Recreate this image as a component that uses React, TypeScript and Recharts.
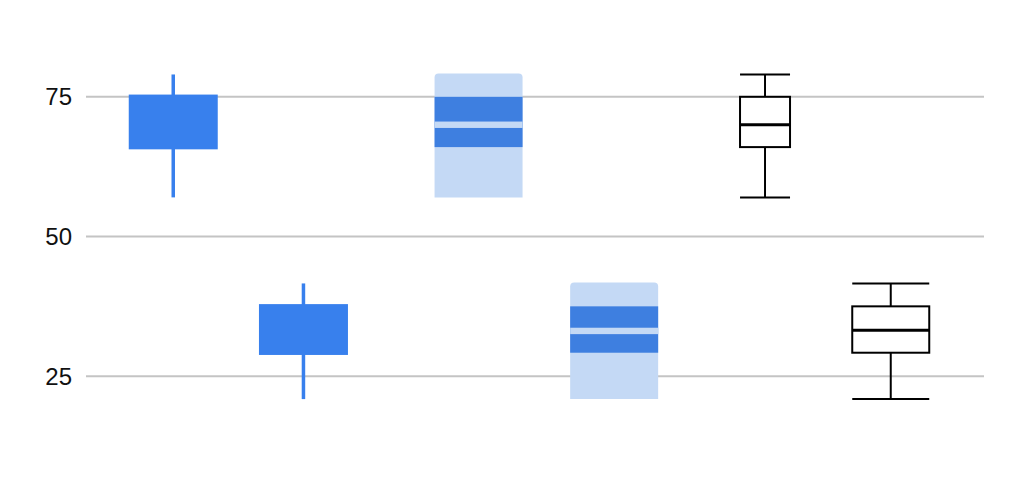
import React from 'react'
import { ComposedChart, Bar, XAxis, YAxis, CartesianGrid } from 'recharts'

// Valores (candlestick, intervalos, box plot)
const positions = [9.7, 24.2, 43.7, 58.8, 75.6, 89.6]
const kinds = ['candle', 'candle', 'interval', 'interval', 'box', 'box']
const lows = [57, 20.9, 57, 20.9, 57, 20.9]
const highs = [79, 41.6, 79, 41.6, 79, 41.6]
const lowerQuartiles = [65.6, 28.8, 66, 29.2, 66, 29.2]
const upperQuartiles = [75.4, 37.9, 75, 37.5, 75, 37.5]
const medians = [null, null, 70, 33.1, 70, 33.2]
const yTicks = [25, 50, 75]

// Larguras (px) de cada marca
const markWidths = [89, 89, 88, 88, 50, 77]

const CANDLE = '#3880ed'
const BAND_DARK = '#3e7fe0'
const BAND_LIGHT = '#c4d9f5'

const data = positions.map((x, i) => ({
  x,
  kind: kinds[i],
  low: lows[i],
  high: highs[i],
  q1: lowerQuartiles[i],
  q3: upperQuartiles[i],
  median: medians[i],
  range: [lows[i], highs[i]],
}))

function MarkShape(props: any) {
  const { x, y, width, height, payload } = props
  const i = positions.indexOf(payload.x)
  const w = markWidths[i]
  const cx = x + width / 2
  const left = cx - w / 2
  // converte valor -> pixel usando a escala que o Bar já aplicou
  const toPx = (v: number) => y + ((payload.high - v) / (payload.high - payload.low)) * height

  const yHigh = toPx(payload.high)
  const yLow = toPx(payload.low)
  const yQ1 = toPx(payload.q1)
  const yQ3 = toPx(payload.q3)

  if (payload.kind === 'candle') {
    return (
      <g>
        <line x1={cx} x2={cx} y1={yHigh} y2={yLow} stroke={CANDLE} strokeWidth={3.5} />
        <rect x={left} y={yQ3} width={w} height={yQ1 - yQ3} fill={CANDLE} />
      </g>
    )
  }

  if (payload.kind === 'interval') {
    const r = 4
    const top = yHigh - 1
    const yMed = toPx(payload.median)
    const path = `M${left},${yLow} L${left},${top + r} Q${left},${top} ${left + r},${top} L${left + w - r},${top} Q${left + w},${top} ${left + w},${top + r} L${left + w},${yLow} Z`
    return (
      <g>
        <path d={path} fill={BAND_LIGHT} />
        <rect x={left} y={yQ3} width={w} height={yQ1 - yQ3} fill={BAND_DARK} />
        <rect x={left} y={yMed - 3.2} width={w} height={6.4} fill={BAND_LIGHT} />
      </g>
    )
  }

  const yMed = toPx(payload.median)
  return (
    <g stroke="#000" fill="none">
      <line x1={left} x2={left + w} y1={yHigh} y2={yHigh} strokeWidth={2} />
      <line x1={left} x2={left + w} y1={yLow} y2={yLow} strokeWidth={2} />
      <line x1={cx} x2={cx} y1={yHigh} y2={yQ3} strokeWidth={2} />
      <line x1={cx} x2={cx} y1={yQ1} y2={yLow} strokeWidth={2} />
      <rect x={left} y={yQ3} width={w} height={yQ1 - yQ3} strokeWidth={2} fill="#fff" />
      <line x1={left} x2={left + w} y1={yMed} y2={yMed} strokeWidth={3} />
    </g>
  )
}

export default function App() {
  return (
    <div style={{ position: 'fixed', left: 0, top: 0, background: '#fff' }}>
      <ComposedChart
        width={1024}
        height={480}
        data={data}
        margin={{ top: 13, right: 40, bottom: 20, left: 0 }}
        style={{ fontFamily: '"Liberation Sans", Arial, sans-serif' }}
      >
        <CartesianGrid
          vertical={false}
          horizontalValues={yTicks}
          syncWithTicks
          stroke="#c4c4c4"
          strokeWidth={2}
        />
        <XAxis type="number" dataKey="x" domain={[0, 100]} hide allowDataOverflow />
        <YAxis
          type="number"
          domain={[10, 90]}
          ticks={yTicks}
          width={86}
          axisLine={false}
          tickLine={false}
          tickMargin={8}
          tick={{ fontSize: 24, fill: '#111' }}
          allowDataOverflow
        />
        <Bar dataKey="range" barSize={10} shape={<MarkShape />} isAnimationActive={false} />
      </ComposedChart>
    </div>
  )
}
